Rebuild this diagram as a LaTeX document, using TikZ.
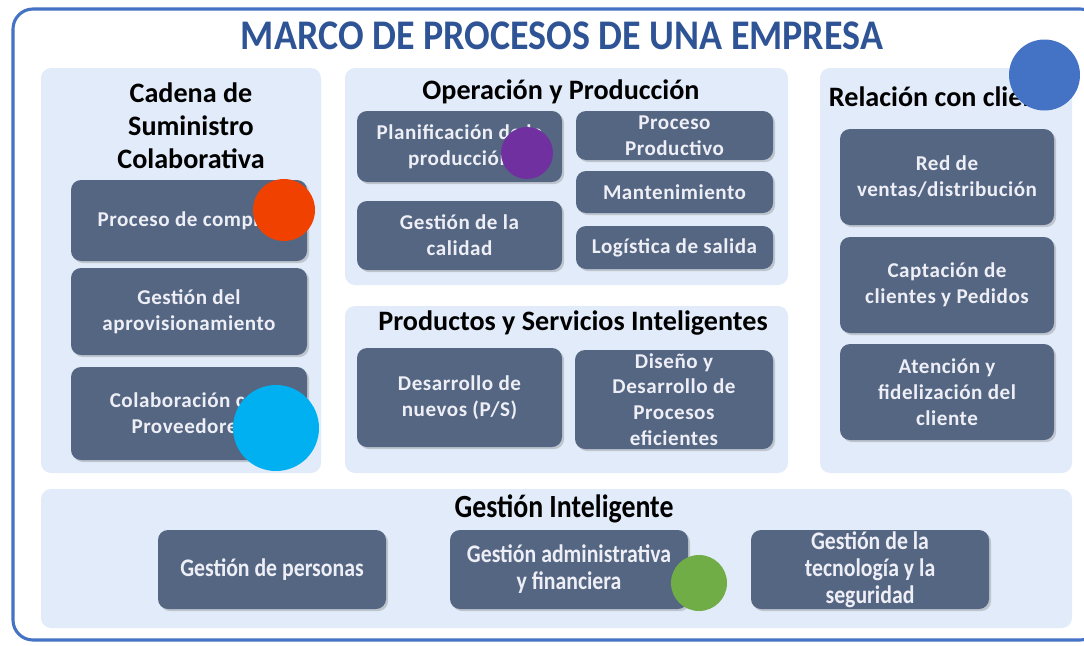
\documentclass[tikz,border=0pt]{standalone}
\usepackage{fontspec}
\setmainfont{Carlito}
\newfontfamily\narrowfont[FakeStretch=0.86]{Carlito}
\newfontfamily\titlefont[FakeStretch=0.9]{Carlito}
\newfontfamily\boxfont[LetterSpace=2.5]{Carlito}
\usepackage{tikz}
\usetikzlibrary{fit,shadows}
\definecolor{frameblue}{HTML}{4472C4}
\definecolor{titleblue}{HTML}{2F5496}
\definecolor{panelfill}{HTML}{E2EBF9}
\definecolor{boxfill}{HTML}{546682}
\definecolor{boxtext}{HTML}{EEEEF6}
\definecolor{dotred}{HTML}{F04100}
\definecolor{dotpurple}{HTML}{7030A0}
\definecolor{dotcyan}{HTML}{00B0F0}
\definecolor{dotblue}{HTML}{4472C4}
\definecolor{dotgreen}{HTML}{70AD47}
\newcommand\pxlen{0.025cm}
\tikzstyle{panel}=[rectangle,fill=panelfill,rounded corners=0.25cm,inner sep=0pt]
\tikzstyle{procbox}=[rectangle,fill=boxfill,rounded corners=0.25cm,inner sep=0pt,
                     text=boxtext,align=center,font=\boxfont\fontsize{15}{18.5}\selectfont\bfseries,
                     drop shadow={shadow xshift=1.5pt,shadow yshift=-1.5pt,opacity=0.35}]
\tikzstyle{lowbox}=[procbox,font=\narrowfont\fontsize{18}{19.3}\selectfont\bfseries]
\tikzstyle{heading}=[align=center,font=\fontsize{20}{23.5}\selectfont\bfseries]
\tikzstyle{dot}=[circle,inner sep=0pt]
\tikzset{boxsize/.style 2 args={minimum width=#1*\pxlen,minimum height=#2*\pxlen}}

\begin{document}
\begin{tikzpicture}[x=0.025cm,y=-0.025cm]
    \clip (0,0) rectangle (1084,645);
    \draw [frameblue,line width=2.2pt,rounded corners=0.5cm] (13,9) rectangle (1100,640);
    \node [font=\titlefont\fontsize{30}{32}\selectfont\bfseries,text=titleblue] (Titulo) at (562,36)
        {MARCO DE PROCESOS DE UNA EMPRESA};

    \node [panel,fit={(41,68) (321,473)}] (Cadena) {};
    \node [panel,fit={(345,68) (788,285)}] (Operacion) {};
    \node [panel,fit={(345,306) (788,473)}] (Productos) {};
    \node [panel,fit={(820,68) (1072,473)}] (Relacion) {};
    \node [panel,fit={(41,489) (1072,628)}] (Gestion) {};

    \node [heading] (CadenaTit) at (191,126) {Cadena de\\Suministro\\Colaborativa};
    \node [heading] (OperacionTit) at (561,92) {Operación y Producción};
    \node [heading] (ProductosTit) at (573,323) {Productos y Servicios Inteligentes};
    \begin{scope}
        \clip (820,68) rectangle (1040,130);
        \node [heading,anchor=west] (RelacionTit) at (824,97) {Relación con clientes};
    \end{scope}
    \node [font=\narrowfont\fontsize{23}{25}\selectfont\bfseries] (GestionTit) at (564,509) {Gestión Inteligente};

    \node [procbox,boxsize={236}{81}] (Compras) at (189,220.5) {Proceso de compras};
    \node [procbox,boxsize={236}{87}] (Aprov) at (189,311.5) {Gestión del\\aprovisionamiento};
    \node [procbox,boxsize={236}{93}] (Proveedores) at (189,413.5) {Colaboración con\\Proveedores};

    \node [procbox,boxsize={205}{71}] (Planif) at (459.5,146.5) {Planificación de la\\producción};
    \node [procbox,boxsize={205}{69}] (Calidad) at (459.5,235.5) {Gestión de la\\calidad};
    \node [procbox,boxsize={197}{49}] (Productivo) at (674.5,135.5) {Proceso\\Productivo};
    \node [procbox,boxsize={197}{42}] (Manten) at (674.5,192) {Mantenimiento};
    \node [procbox,boxsize={197}{43}] (Logistica) at (674.5,247.5) {Logística de salida};

    \node [procbox,boxsize={205}{99}] (Nuevos) at (459.5,397.5) {Desarrollo de\\nuevos (P/S)};
    \node [procbox,boxsize={198}{99},font=\boxfont\fontsize{15}{18.3}\selectfont\bfseries] (Diseno) at (674,399.5)
        {Diseño y\\Desarrollo de\\Procesos\\eficientes};

    \node [procbox,boxsize={214}{96}] (Ventas) at (947,177) {Red de\\ventas/distribución};
    \node [procbox,boxsize={214}{96}] (Captacion) at (947,285) {Captación de\\clientes y Pedidos};
    \node [procbox,boxsize={214}{96}] (Atencion) at (947,392) {Atención y\\fidelización del\\cliente};

    \node [lowbox,boxsize={228}{79}] (Personas) at (272,569.5) {Gestión de personas};
    \node [lowbox,boxsize={238}{79}] (Admin) at (569,569.5) {Gestión administrativa\\y financiera};
    \node [lowbox,boxsize={238}{79}] (Tecno) at (870,569.5) {Gestión de la\\tecnología y la\\seguridad};

    \node [dot,fill=dotred,minimum size=62*\pxlen] (PuntoRojo) at (284,210) {};
    \node [dot,fill=dotpurple,minimum size=52*\pxlen] (PuntoMorado) at (527,153) {};
    \node [dot,fill=dotcyan,minimum size=86*\pxlen] (PuntoCian) at (276,428) {};
    \node [dot,fill=dotblue,minimum size=71*\pxlen] (PuntoAzul) at (1044.5,75) {};
    \node [dot,fill=dotgreen,minimum size=56*\pxlen] (PuntoVerde) at (699,583) {};
\end{tikzpicture}
\end{document}
